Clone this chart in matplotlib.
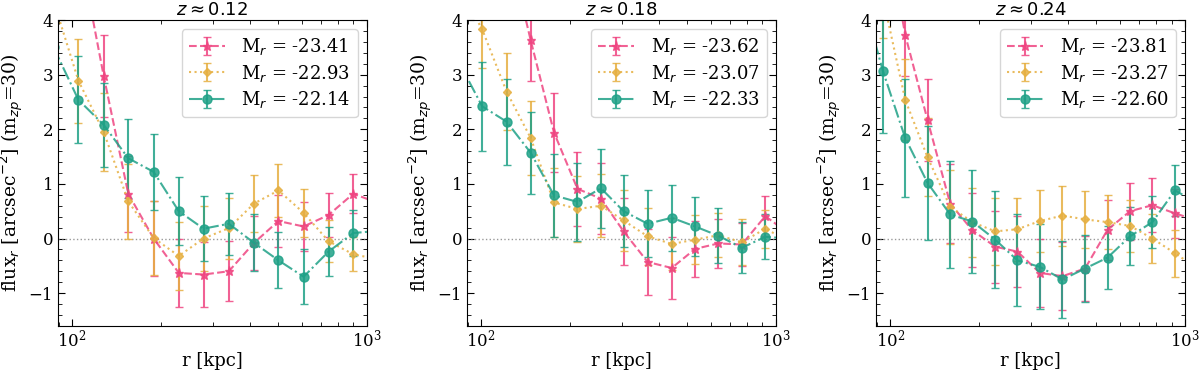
import numpy as np
import matplotlib
matplotlib.use('Agg')
import matplotlib.pyplot as plt
from matplotlib.ticker import MultipleLocator

plt.rcParams['font.family'] = 'serif'
plt.rcParams['font.serif'] = ['DejaVu Serif']
plt.rcParams['mathtext.fontset'] = 'dejavusans'

# radii of the bins (kpc) for each redshift panel
r_z012 = [86.5, 105, 128, 155, 189, 230, 279, 340, 414, 501, 610, 741, 899, 1092]
r_z018 = [83.8, 100.8, 121.9, 147.2, 176.6, 212.1, 254.8, 304.2, 367, 443, 532, 638, 766, 920, 1107]
r_z024 = [80, 94.4, 112.4, 133.8, 159.7, 190, 227, 270, 322, 384, 458, 546, 651, 775, 925, 1102]

# z ~ 0.12
f12_bright = [7.5, 5.4, 2.97, 0.82, 0.0, -0.63, -0.66, -0.60, -0.08, 0.32, 0.22, 0.43, 0.82, 0.65]
e12_bright = [0.8, 0.78, 0.75, 0.70, 0.68, 0.63, 0.60, 0.55, 0.50, 0.48, 0.45, 0.40, 0.36, 0.33]
f12_mid = [4.35, 2.89, 1.95, 0.68, 0.01, -0.32, 0.0, 0.19, 0.64, 0.88, 0.47, -0.05, -0.29, -0.38]
e12_mid = [0.8, 0.77, 0.72, 0.68, 0.67, 0.63, 0.60, 0.56, 0.53, 0.49, 0.44, 0.38, 0.31, 0.3]
f12_faint = [3.5, 2.54, 2.08, 1.47, 1.22, 0.50, 0.18, 0.27, -0.08, -0.40, -0.70, -0.24, 0.10, 0.14]
e12_faint = [0.82, 0.80, 0.77, 0.72, 0.69, 0.62, 0.60, 0.57, 0.52, 0.51, 0.50, 0.45, 0.42, 0.4]

# z ~ 0.18
f18_bright = [8.0, 7.0, 5.5, 3.63, 1.94, 0.91, 0.73, 0.13, -0.43, -0.54, -0.19, -0.09, -0.11, 0.41, 0.09]
e18_bright = [0.8, 0.8, 0.78, 0.75, 0.72, 0.68, 0.65, 0.62, 0.60, 0.56, 0.51, 0.45, 0.40, 0.36, 0.33]
f18_mid = [4.6, 3.83, 2.69, 1.84, 0.66, 0.54, 0.60, 0.33, 0.04, -0.10, -0.02, 0.06, -0.07, 0.18, -0.05]
e18_mid = [0.72, 0.70, 0.71, 0.67, 0.64, 0.60, 0.58, 0.55, 0.52, 0.48, 0.45, 0.40, 0.42, 0.35, 0.33]
f18_faint = [3.24, 2.42, 2.14, 1.57, 0.79, 0.67, 0.92, 0.50, 0.27, 0.38, 0.22, 0.05, -0.17, 0.03, 0.0]
e18_faint = [0.84, 0.82, 0.79, 0.75, 0.76, 0.72, 0.72, 0.66, 0.61, 0.60, 0.54, 0.50, 0.47, 0.41, 0.4]

# z ~ 0.24
f24_bright = [9.0, 6.0, 3.73, 2.17, 0.64, 0.15, -0.15, -0.24, -0.63, -0.69, -0.55, 0.16, 0.50, 0.61, 0.46, 0.33]
e24_bright = [0.8, 0.78, 0.75, 0.75, 0.72, 0.68, 0.66, 0.65, 0.63, 0.62, 0.60, 0.55, 0.52, 0.50, 0.45, 0.42]
f24_mid = [5.5, 4.42, 2.54, 1.49, 0.58, 0.30, 0.13, 0.17, 0.32, 0.42, 0.35, 0.30, 0.23, 0.0, -0.27, -0.55]
e24_mid = [0.78, 0.75, 0.74, 0.72, 0.68, 0.63, 0.61, 0.58, 0.56, 0.55, 0.52, 0.50, 0.47, 0.45, 0.43, 0.4]
f24_faint = [4.47, 3.07, 1.84, 1.02, 0.44, 0.31, -0.02, -0.40, -0.52, -0.75, -0.55, -0.35, 0.04, 0.30, 0.88, 0.65]
e24_faint = [1.15, 1.13, 1.08, 1.04, 0.98, 0.95, 0.89, 0.84, 0.78, 0.70, 0.62, 0.57, 0.53, 0.48, 0.46, 0.44]

titles = [r'$z \approx 0.12$', r'$z \approx 0.18$', r'$z \approx 0.24$']
mags = [['-23.41', '-22.93', '-22.14'],
        ['-23.62', '-23.07', '-22.33'],
        ['-23.81', '-23.27', '-22.60']]

radii = [r_z012, r_z018, r_z024]
fluxes = [[f12_bright, f12_mid, f12_faint],
          [f18_bright, f18_mid, f18_faint],
          [f24_bright, f24_mid, f24_faint]]
errors = [[e12_bright, e12_mid, e12_faint],
          [e18_bright, e18_mid, e18_faint],
          [e24_bright, e24_mid, e24_faint]]

colors = ['#ef4581', '#e6b042', '#1fa187']
styles = ['--', ':', '-.']
markers = ['*', 'D', 'o']
msizes = [6.5, 4.5, 6.5]

fig, axes = plt.subplots(1, 3, figsize=(12, 3.72), dpi=100)
fig.subplots_adjust(left=0.0483, right=0.9875, top=0.946, bottom=0.124, wspace=0.324)

for i, ax in enumerate(axes):
    ax.axhline(0, color='grey', ls=':', lw=1, alpha=0.8)
    for j in range(3):
        ax.errorbar(radii[i], fluxes[i][j], yerr=errors[i][j], ls=styles[j],
                    marker=markers[j], ms=msizes[j], color=colors[j], lw=1.5,
                    capsize=3, elinewidth=1.5, alpha=0.85,
                    label=r'M$_r$ = ' + mags[i][j])
    ax.set_xscale('log')
    ax.set_xlim(89.5, 1000)
    ax.set_ylim(-1.6, 4)
    ax.yaxis.set_major_locator(MultipleLocator(1))
    ax.yaxis.set_minor_locator(MultipleLocator(0.2))
    ax.tick_params(which='both', direction='in', top=True, right=True, labelsize=12)
    ax.tick_params(which='major', length=5)
    ax.tick_params(which='minor', length=3)
    ax.tick_params(axis='x', which='both', pad=2)
    ax.set_xlabel('r [kpc]', fontsize=13, labelpad=1)
    ax.set_ylabel(r'flux$_r$ [arcsec$^{-2}$] (m$_{zp}$=30)', fontsize=13.5, labelpad=2)
    ax.set_title(titles[i], fontsize=13, pad=4)
    ax.legend(loc='upper right', fontsize=13, handlelength=2.0, handletextpad=0.9,
              labelspacing=0.3, borderaxespad=0.5)

plt.savefig('out.png', dpi=100)
